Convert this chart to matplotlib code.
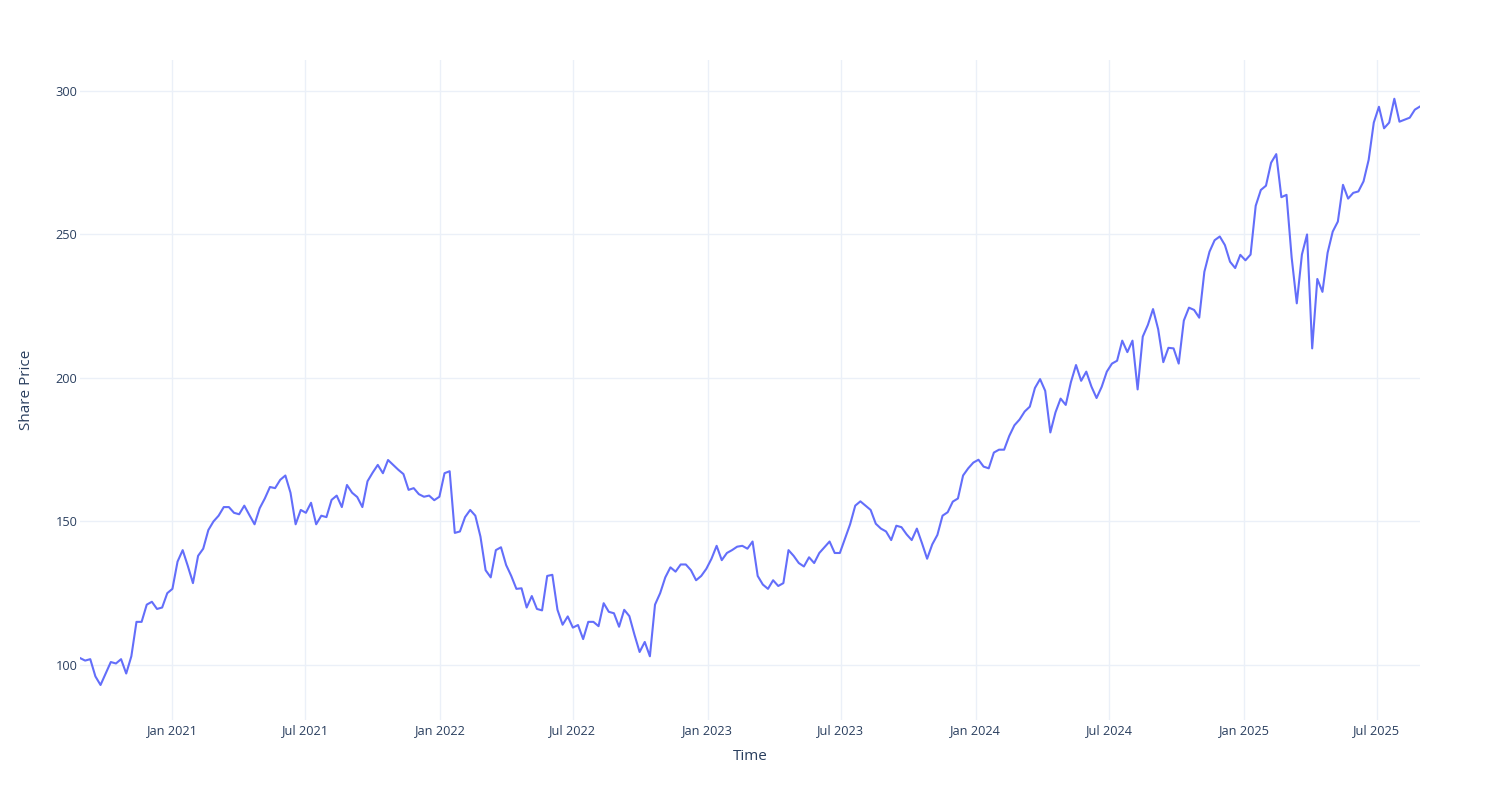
import numpy as np
import pandas as pd
import matplotlib
matplotlib.use("Agg")
import matplotlib.pyplot as plt
import matplotlib.dates as mdates

# weekly closes, first obs 2020-08-28
START = "2020-08-28"
FREQ = "7D"
price = [
    # Sep 2020 - Apr 2021
    102.4, 101.5, 102.0, 96.0, 93.0, 97.0, 101.0, 100.5, 102.0, 97.0,
    103.0, 115.0, 115.0, 121.0, 122.0, 119.5, 120.0, 125.0, 126.5, 136.0,
    140.0, 134.5, 128.5, 138.0, 140.5, 147.0, 150.0, 152.0, 155.0, 155.0,
    153.0, 152.5, 155.5,
    # Apr 2021 - Nov 2021
    152.2, 149.0, 154.6, 158.0, 162.0, 161.6, 164.5, 166.0, 160.0, 149.0,
    154.0, 153.0, 156.5, 149.0, 152.0, 151.5, 157.5, 159.0, 155.0, 162.7,
    160.0, 158.5, 155.0, 164.0, 167.0, 169.7, 166.8, 171.4, 169.7, 168.0,
    166.5, 161.0,
    # Nov 2021 - Jul 2022
    161.6, 159.5, 158.6, 159.0, 157.4, 158.6, 166.8, 167.5, 146.0, 146.5,
    151.5, 154.0, 152.0, 144.7, 133.0, 130.5, 140.0, 141.0, 134.8, 131.0,
    126.5, 126.7, 120.0, 124.0, 119.5, 119.0, 131.0, 131.4, 119.2, 114.0,
    116.9, 113.0,
    # Jul 2022 - Mar 2023
    113.9, 109.0, 115.0, 115.0, 113.5, 121.5, 118.5, 118.0, 113.3, 119.2,
    117.0, 110.5, 104.5, 108.0, 103.0, 121.0, 125.0, 130.5, 134.0, 132.5,
    135.0, 135.0, 133.0, 129.5, 131.0, 133.5, 137.0, 141.5, 136.5, 139.0,
    140.0, 141.2,
    # Mar 2023 - Oct 2023
    141.5, 140.5, 143.0, 131.0, 128.0, 126.5, 129.5, 127.5, 128.5, 140.0,
    138.0, 135.5, 134.3, 137.5, 135.5, 139.0, 141.0, 143.0, 139.0, 139.0,
    144.0, 149.0, 155.5, 157.0, 155.5, 154.0, 149.2, 147.5, 146.5, 143.5,
    148.5, 148.0,
    # Oct 2023 - Jun 2024
    145.5, 143.5, 147.5, 142.4, 137.0, 142.0, 145.3, 152.0, 153.2, 156.9,
    158.0, 166.0, 168.5, 170.5, 171.5, 169.1, 168.5, 174.0, 175.0, 175.0,
    179.8, 183.5, 185.5, 188.3, 190.0, 196.5, 199.6, 195.5, 181.0, 188.0,
    192.8, 190.6,
    # Jun 2024 - Jan 2025
    198.5, 204.5, 199.0, 202.2, 197.0, 193.0, 196.9, 202.2, 205.0, 206.0,
    213.0, 209.0, 213.0, 196.0, 214.4, 218.5, 224.0, 217.0, 205.5, 210.5,
    210.3, 205.0, 220.0, 224.5, 223.7, 221.0, 237.0, 244.0, 248.0, 249.3,
    246.3, 240.5,
    # Jan 2025 - Aug 2025
    238.3, 242.9, 241.0, 243.0, 260.0, 265.5, 267.0, 275.0, 278.0, 263.0,
    263.8, 242.0, 226.0, 243.0, 250.0, 210.3, 234.5, 230.0, 243.6, 251.0,
    254.5, 267.3, 262.5, 264.5, 265.0, 268.5, 276.0, 289.0, 294.5, 287.0,
    289.0, 297.3, 289.3, 290.0, 290.7, 293.5, 294.6,
]
dates = pd.date_range(START, periods=len(price), freq=FREQ)

y_ticks = [100, 150, 200, 250, 300]
x_ticks = pd.to_datetime(["2021-01-01", "2021-07-01", "2022-01-01", "2022-07-01",
                          "2023-01-01", "2023-07-01", "2024-01-01", "2024-07-01",
                          "2025-01-01", "2025-07-01"])

LINE = "#636efa"
GRID = "#ebf0f8"
TEXT = "#2a3f5f"

plt.rcParams["font.family"] = ["Open Sans", "DejaVu Sans"]

fig = plt.figure(figsize=(15, 8), dpi=100)
ax = fig.add_axes([80 / 1500, 80 / 800, 1340 / 1500, 660 / 800])

ax.plot(dates, price, color=LINE, lw=1.5, solid_joinstyle="round")

ax.set_xlim(dates[0], dates[-1])
ax.set_ylim(80.8, 310.8)
ax.set_yticks(y_ticks)
ax.set_xticks(x_ticks)
ax.xaxis.set_major_formatter(mdates.DateFormatter("%b %Y"))

ax.grid(True, color=GRID, lw=1)
ax.set_axisbelow(True)
for s in ax.spines.values():
    s.set_visible(False)
ax.tick_params(axis="both", length=0, colors=TEXT, labelsize=9.2)
ax.tick_params(axis="y", pad=2)
ax.tick_params(axis="x", pad=3)

ax.set_xlabel("Time", fontsize=11, color=TEXT, va="center")
ax.set_ylabel("Share Price", fontsize=11, color=TEXT, va="center")
ax.xaxis.set_label_coords(0.5, (720 - 756) / 660)
ax.yaxis.set_label_coords((27 - 80) / 1340, 0.5)

fig.savefig("out.png", dpi=100, facecolor="white")
